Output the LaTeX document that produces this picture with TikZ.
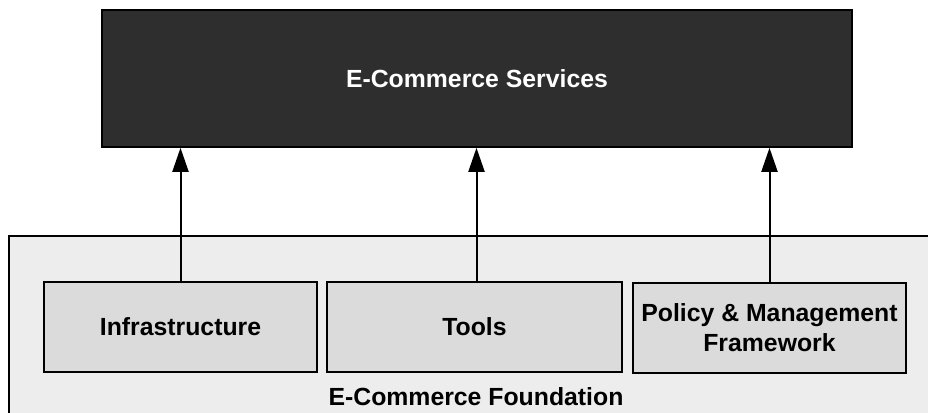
\documentclass[tikz,border=0pt]{standalone}
\usepackage{fontspec}
\setmainfont{Liberation Sans}
\usetikzlibrary{arrows.meta}
\tikzset{
    every node/.style={font=\fontsize{12.4}{15}\selectfont\bfseries,
    	align=center}
}
\tikzset{
    part/.style={rectangle, draw, line width=1.3pt, fill=gray!28,
    	inner sep=0pt, minimum height=45pt}
}
\tikzset{
    every edge/.append style={line width=1pt,
    	-{Triangle[length=12pt,width=8pt]}}
}

\begin{document}
\begin{tikzpicture}[x=0.5pt, y=-0.5pt]
  \clip (0,0) rectangle (928,413);
  \fill[white] (0,0) rectangle (928,413);
  \draw[fill=gray!14, line width=1pt] (9,236) rectangle (950,440);

  \node (services) [rectangle, draw, line width=0.8pt, fill=black!82,
    text=white, minimum width=375pt, minimum height=68.5pt]
    at (477,78.5) {E-Commerce Services};
  \node (infra) [part, minimum width=136.5pt] at (180.5,327) {Infrastructure};
  \node (tools) [part, minimum width=147.5pt] at (474.5,327) {Tools};
  \node (policy) [part, minimum width=136.5pt] at (769.5,328)
    {Policy \& Management\\Framework};
  \node (foundation) at (476,397) {E-Commerce Foundation};

  \draw (infra.north) edge (infra.north |- services.south);
  \draw ([xshift=1pt]tools.north) edge ([xshift=1pt]tools.north |- services.south);
  \draw (policy.north) edge (policy.north |- services.south);
\end{tikzpicture}
\end{document}
